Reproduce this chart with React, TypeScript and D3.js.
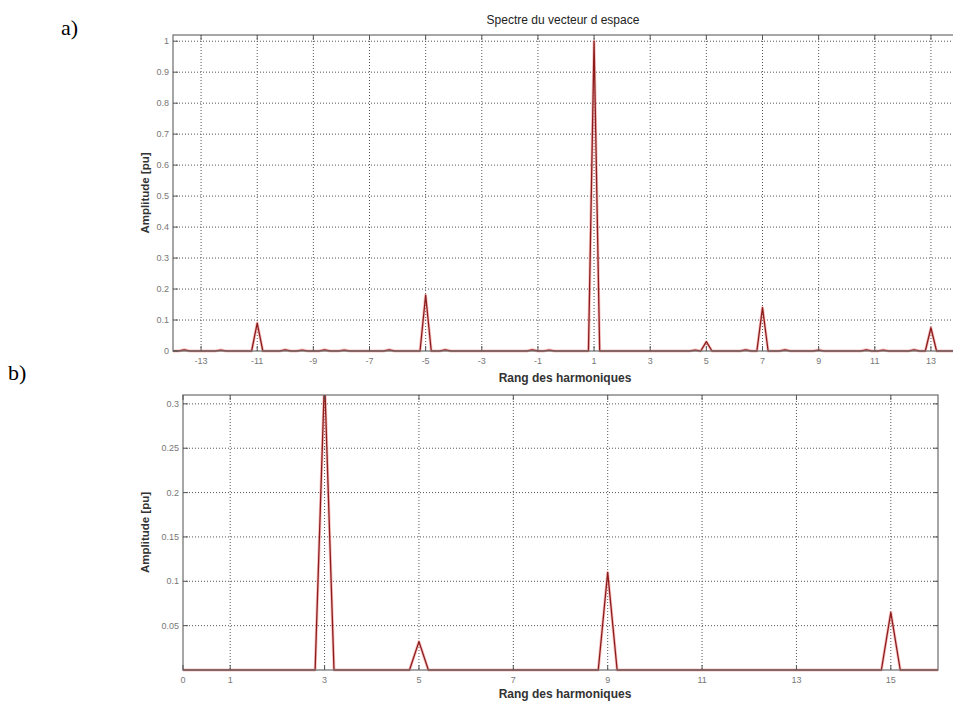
import React from "react";
import * as d3 from "d3";

// Spectrum of the space vector (panel a): harmonic rank and amplitude [pu]
const harmonicsA = [-13.6, -12.3, -11, -10, -9.4, -8.6, -7.9, -6.3, -5, -4.3, -1.2, -0.6, 1, 4.6, 5, 6.4, 7, 7.8, 9, 10.7, 11.3, 12.4, 13];
const amplitudesA = [0.004, 0.003, 0.09, 0.004, 0.003, 0.004, 0.003, 0.004, 0.18, 0.004, 0.004, 0.003, 1.0, 0.003, 0.03, 0.004, 0.14, 0.004, 0.003, 0.004, 0.003, 0.004, 0.075];

// Harmonic content of panel b
const harmonicsB = [3, 5, 9, 15];
const amplitudesB = [0.33, 0.032, 0.11, 0.065];

const xTicksA = [-13, -11, -9, -7, -5, -3, -1, 1, 3, 5, 7, 9, 11, 13];
const yTicksA = [0, 0.1, 0.2, 0.3, 0.4, 0.5, 0.6, 0.7, 0.8, 0.9, 1];
const xTicksB = [0, 1, 3, 5, 7, 9, 11, 13, 15];
const yTicksB = [0.05, 0.1, 0.15, 0.2, 0.25, 0.3];

const halfWidth = 0.2; // half base width of each spectral line, in harmonic units

function spectrumPoints(h: number[], a: number[], x0: number, x1: number): [number, number][] {
  const pts: [number, number][] = [[x0, 0]];
  h.forEach((hv, i) => {
    pts.push([hv - halfWidth, 0], [hv, a[i]], [hv + halfWidth, 0]);
  });
  pts.push([x1, 0]);
  return pts;
}

const fontUI = "Arial, 'Liberation Sans', sans-serif";

type PanelProps = {
  id: string;
  xDomain: [number, number];
  yDomain: [number, number];
  left: number;
  right: number;
  top: number;
  bottom: number;
  xTicks: number[];
  yTicks: number[];
  h: number[];
  a: number[];
  xLabelY: number;
};

function Panel(p: PanelProps) {
  const x = d3.scaleLinear().domain(p.xDomain).range([p.left, p.right]);
  const y = d3.scaleLinear().domain(p.yDomain).range([p.bottom, p.top]);
  const pts = spectrumPoints(p.h, p.a, p.xDomain[0], p.xDomain[1]);
  const line = d3.line<[number, number]>().x((d) => x(d[0])).y((d) => y(d[1]));
  const path = line(pts) || "";
  const clipId = `clip-${p.id}`;
  return (
    <g>
      <defs>
        <clipPath id={clipId}>
          <rect x={p.left} y={p.top} width={p.right - p.left} height={p.bottom - p.top + 2} />
        </clipPath>
      </defs>
      <rect x={p.left} y={p.top} width={p.right - p.left} height={p.bottom - p.top} fill="#fff" />
      {/* dotted grid */}
      {p.xTicks.filter((t) => t > p.xDomain[0]).map((t) => (
        <line key={`gx${t}`} x1={x(t)} x2={x(t)} y1={p.top} y2={p.bottom} stroke="#555" strokeWidth={1} strokeDasharray="1,2" />
      ))}
      {p.yTicks.filter((t) => t > p.yDomain[0]).map((t) => (
        <line key={`gy${t}`} x1={p.left} x2={p.right} y1={y(t)} y2={y(t)} stroke="#555" strokeWidth={1} strokeDasharray="1,2" />
      ))}
      {/* spectrum */}
      <g clipPath={`url(#${clipId})`}>
        <path d={path} fill="none" stroke="#f09090" strokeWidth={3} strokeOpacity={0.55} strokeLinejoin="round" />
        <path d={path} fill="none" stroke="#8c1c1c" strokeWidth={1.3} strokeLinejoin="round" />
      </g>
      {/* box */}
      <rect x={p.left} y={p.top} width={p.right - p.left} height={p.bottom - p.top} fill="none" stroke="#777" strokeWidth={1.3} />
      {/* tick marks */}
      {p.xTicks.map((t) => (
        <g key={`tx${t}`}>
          <line x1={x(t)} x2={x(t)} y1={p.bottom} y2={p.bottom - 5} stroke="#555" />
          <line x1={x(t)} x2={x(t)} y1={p.top} y2={p.top + 5} stroke="#555" />
          <text x={x(t)} y={p.bottom + 13} textAnchor="middle" fontSize={9} fill="#777" fontFamily={fontUI}>{String(t)}</text>
        </g>
      ))}
      {p.yTicks.map((t) => (
        <g key={`ty${t}`}>
          <line x1={p.left} x2={p.left + 5} y1={y(t)} y2={y(t)} stroke="#555" />
          <line x1={p.right} x2={p.right - 5} y1={y(t)} y2={y(t)} stroke="#555" />
          <text x={p.left - 4} y={y(t) + 3} textAnchor="end" fontSize={9} fill="#777" fontFamily={fontUI}>{String(t)}</text>
        </g>
      ))}
      <text x={565} y={p.xLabelY} textAnchor="middle" fontSize={12} fontWeight="bold" fill="#333" fontFamily={fontUI}>Rang des harmoniques</text>
      <text transform={`translate(149,${(p.top + p.bottom) / 2}) rotate(-90)`} textAnchor="middle" fontSize={11.5} fontWeight="bold" fill="#333" fontFamily={fontUI}>Amplitude [pu]</text>
    </g>
  );
}

export default function App() {
  return (
    <svg width={953} height={704} style={{ position: "absolute", left: 0, top: 0, background: "#fff" }}>
      <rect width={953} height={704} fill="#fff" />
      <text x={61} y={35} fontSize={22} fontFamily="'Liberation Serif', 'Times New Roman', serif" fill="#000">a)</text>
      <text x={8} y={380} fontSize={22} fontFamily="'Liberation Serif', 'Times New Roman', serif" fill="#000">b)</text>
      <text x={563} y={24} textAnchor="middle" fontSize={12} fill="#222" fontFamily={fontUI}>Spectre du vecteur d espace</text>
      <Panel
        id="a"
        xDomain={[-14, 14]}
        yDomain={[0, 1.02]}
        left={173}
        right={959}
        top={35}
        bottom={351}
        xTicks={xTicksA}
        yTicks={yTicksA}
        h={harmonicsA}
        a={amplitudesA}
        xLabelY={382}
      />
      <Panel
        id="b"
        xDomain={[0, 16]}
        yDomain={[0, 0.31]}
        left={183}
        right={938}
        top={395}
        bottom={670}
        xTicks={xTicksB}
        yTicks={yTicksB}
        h={harmonicsB}
        a={amplitudesB}
        xLabelY={698}
      />
    </svg>
  );
}
